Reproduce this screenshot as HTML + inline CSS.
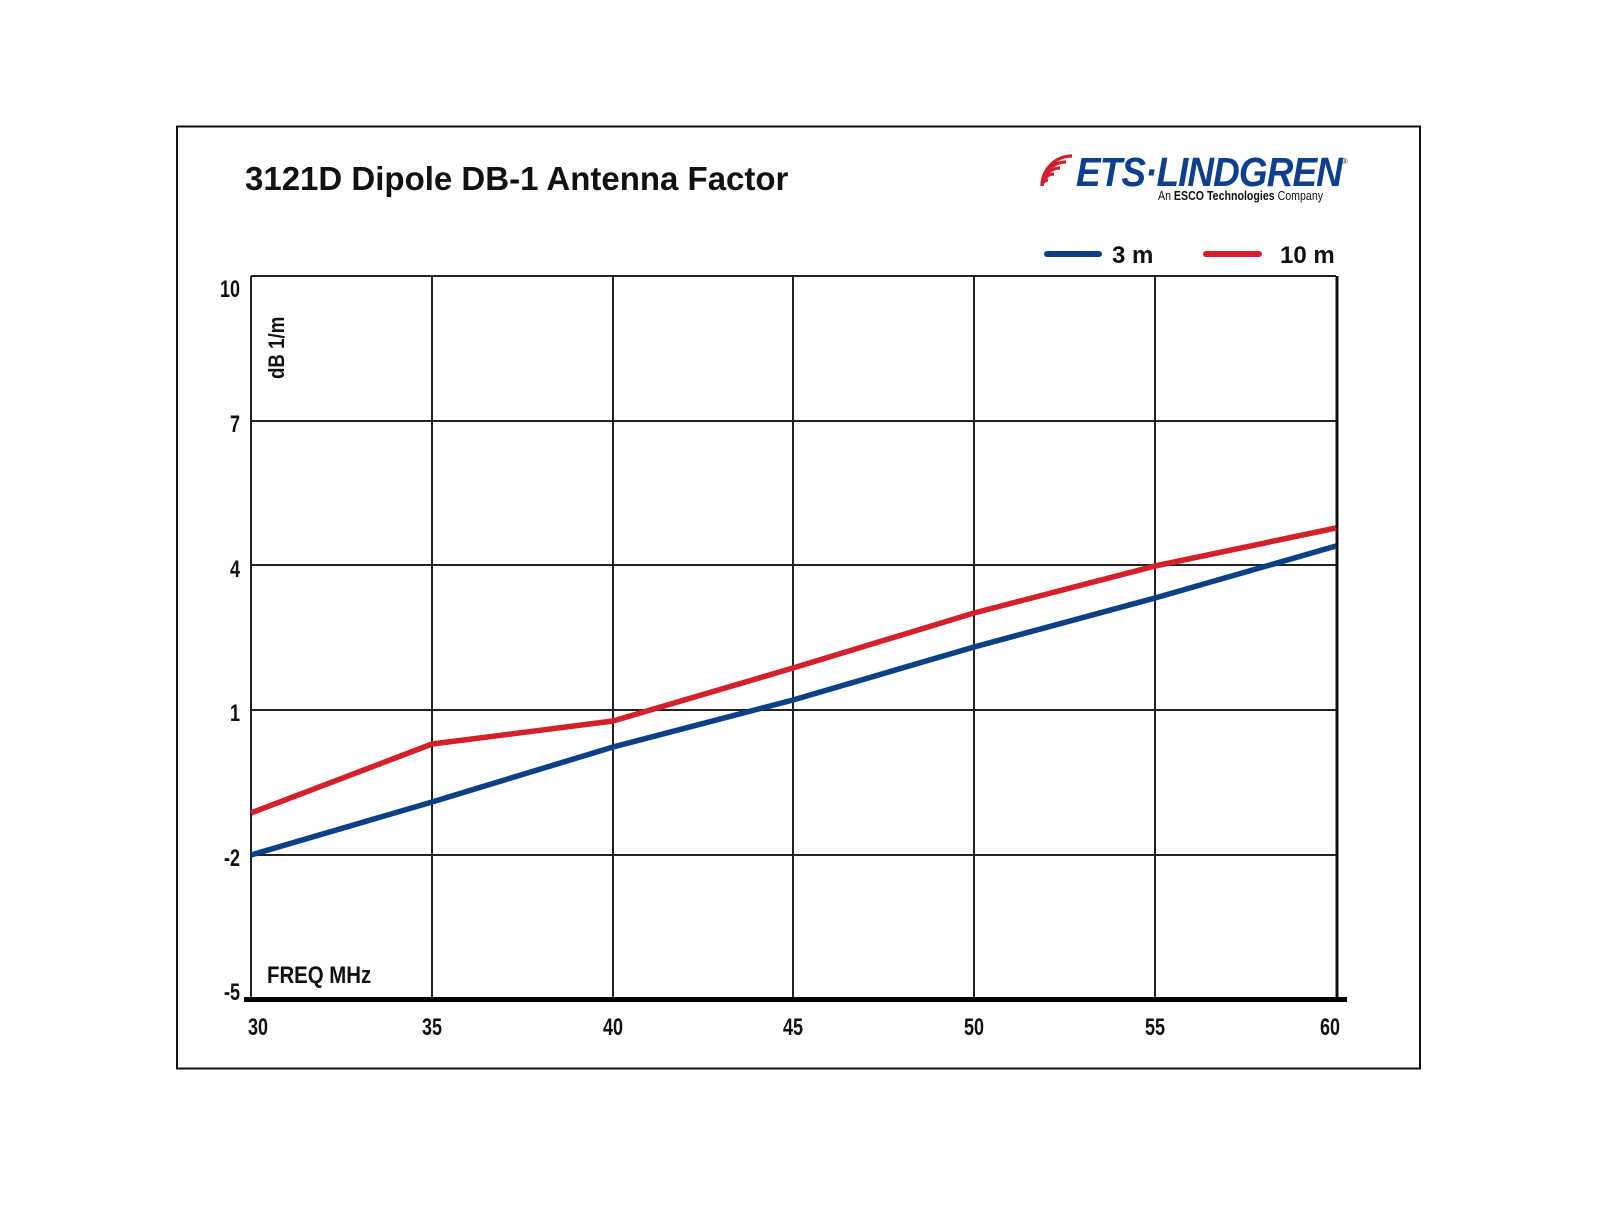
<!DOCTYPE html>
<html><head><meta charset="utf-8"><style>html,body{margin:0;padding:0;background:#fff}</style></head>
<body>
<svg width="1600" height="1200" viewBox="0 0 1600 1200" xmlns="http://www.w3.org/2000/svg" font-family="Liberation Sans, Arial, sans-serif">
<rect x="0" y="0" width="1600" height="1200" fill="#fff"/>
<rect x="177" y="126.5" width="1243" height="942" fill="none" stroke="#111" stroke-width="2"/>
<text x="245" y="190" font-size="33" font-weight="bold" fill="#111">3121D Dipole DB-1 Antenna Factor</text>
<!-- logo -->
<g fill="none" stroke="#d0202e" stroke-width="3.2">
<path d="M1042 186 a6 6 0 0 1 6 -6"/>
<path d="M1042 186 a12 12 0 0 1 12 -12"/>
<path d="M1042 186 a18 18 0 0 1 18 -18"/>
<path d="M1042 186 a24 24 0 0 1 24 -24"/>
<path d="M1042 186 a30 30 0 0 1 30 -30"/>
</g>
<text x="1076" y="186" font-size="41" font-weight="bold" font-style="italic" fill="#0d3f8f" transform="translate(1076 0) scale(0.9 1) translate(-1076 0)" letter-spacing="-1">ETS·LINDGREN</text>
<text x="1342" y="164" font-size="8" fill="#333">®</text>
<text x="1158" y="200" font-size="12.5" fill="#111" transform="translate(1158 0) scale(0.85 1) translate(-1158 0)">An <tspan font-weight="bold">ESCO Technologies</tspan> Company</text>
<!-- legend -->
<line x1="1047" y1="254" x2="1099" y2="254" stroke="#0b3f86" stroke-width="6" stroke-linecap="round"/>
<text x="1112" y="263" font-size="24" font-weight="bold" fill="#111">3 m</text>
<line x1="1206" y1="254" x2="1259" y2="254" stroke="#d3202a" stroke-width="6" stroke-linecap="round"/>
<text x="1280" y="263" font-size="24" font-weight="bold" fill="#111">10 m</text>
<!-- grid -->
<g stroke="#222" stroke-width="2">
<line x1="251" y1="276" x2="1336" y2="276"/>
<line x1="251" y1="421" x2="1336" y2="421"/>
<line x1="251" y1="565" x2="1336" y2="565"/>
<line x1="251" y1="710" x2="1336" y2="710"/>
<line x1="251" y1="855" x2="1336" y2="855"/>
<line x1="251" y1="276" x2="251" y2="1000"/>
<line x1="432" y1="276" x2="432" y2="1000"/>
<line x1="613" y1="276" x2="613" y2="1000"/>
<line x1="793" y1="276" x2="793" y2="1000"/>
<line x1="974" y1="276" x2="974" y2="1000"/>
<line x1="1155" y1="276" x2="1155" y2="1000"/>
</g>
<line x1="1337" y1="276" x2="1337" y2="1000" stroke="#111" stroke-width="3"/>
<line x1="244" y1="999.5" x2="1347" y2="999.5" stroke="#000" stroke-width="5"/>
<!-- y labels -->
<g font-size="24" font-weight="bold" fill="#111" text-anchor="end">
<text x="240" y="297" transform="translate(240 0) scale(0.75 1) translate(-240 0)">10</text>
<text x="240" y="432" transform="translate(240 0) scale(0.75 1) translate(-240 0)">7</text>
<text x="240" y="577" transform="translate(240 0) scale(0.75 1) translate(-240 0)">4</text>
<text x="240" y="721" transform="translate(240 0) scale(0.75 1) translate(-240 0)">1</text>
<text x="240" y="866" transform="translate(240 0) scale(0.75 1) translate(-240 0)">-2</text>
<text x="240" y="1000" transform="translate(240 0) scale(0.75 1) translate(-240 0)">-5</text>
</g>
<g font-size="24" font-weight="bold" fill="#111" text-anchor="middle">
<text x="258" y="1035" transform="translate(258 0) scale(0.75 1) translate(-258 0)">30</text>
<text x="432" y="1035" transform="translate(432 0) scale(0.75 1) translate(-432 0)">35</text>
<text x="613" y="1035" transform="translate(613 0) scale(0.75 1) translate(-613 0)">40</text>
<text x="793" y="1035" transform="translate(793 0) scale(0.75 1) translate(-793 0)">45</text>
<text x="974" y="1035" transform="translate(974 0) scale(0.75 1) translate(-974 0)">50</text>
<text x="1155" y="1035" transform="translate(1155 0) scale(0.75 1) translate(-1155 0)">55</text>
<text x="1330" y="1035" transform="translate(1330 0) scale(0.75 1) translate(-1330 0)">60</text>
</g>
<text x="267" y="983" font-size="24" font-weight="bold" fill="#111" transform="translate(267 0) scale(0.85 1) translate(-267 0)">FREQ  MHz</text>
<text transform="translate(284 379) rotate(-90) scale(0.85 1)" font-size="22" font-weight="bold" fill="#111">dB 1/m</text>
<!-- series -->
<polyline points="251,813 432,744 613,721 793,668 974,613 1155,566 1336,528" fill="none" stroke="#d3202a" stroke-width="5.5" stroke-linejoin="round"/>
<polyline points="251,855 432,802 613,747 793,700 974,647 1155,598 1336,546" fill="none" stroke="#0b3f86" stroke-width="5.5" stroke-linejoin="round"/>
</svg>
</body></html>
